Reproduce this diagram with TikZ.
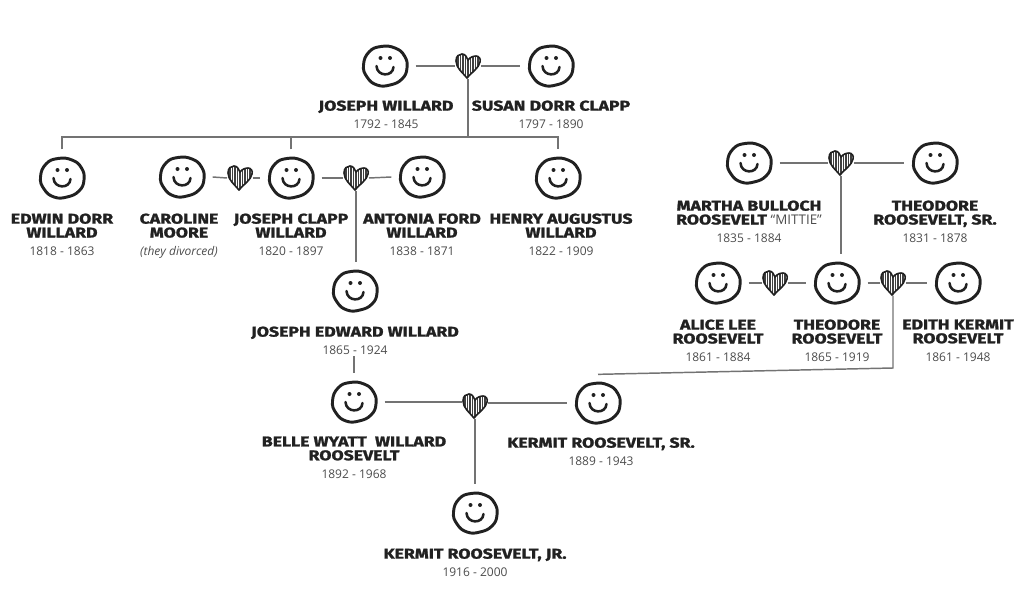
\documentclass[tikz,border=0pt]{standalone}
\usepackage{fontspec}
\setmainfont{Open Sans}
\newfontfamily\namefont[FakeBold=1.5,FakeStretch=1.25]{Fira Sans Bold}
\usetikzlibrary{calc,positioning}
\definecolor{ink}{gray}{0.13}
\definecolor{wire}{gray}{0.45}
\newcommand{\yrs}[1]{{\fontsize{9}{11}\selectfont\normalfont\color{black!70}#1}}
\newcommand{\nm}[1]{{\namefont #1}}
\tikzset{face/.style={rectangle,inner sep=0pt,outer sep=5pt,minimum width=36pt,minimum height=33pt,
    path picture={\begin{scope}[shift={(path picture bounding box.center)}]
      \draw[ink,line width=2.2pt,line join=round] plot[smooth cycle,tension=0.8] coordinates {(-21.5,-1) (-16,-14) (-4,-19.5) (10,-18) (19.5,-10) (22,2) (17,13) (5,19) (-8,19) (-18,11)};
      \fill[ink] (-4.5,-8) circle (2) (5,-8) circle (2);
      \draw[ink,line width=1.9pt,line cap=round] (-8.5,0) .. controls (-8,11) and (8,11) .. (8.5,1);
    \end{scope}}},
  love/.style={rectangle,inner sep=0pt,outer sep=0pt,minimum width=19.5pt,minimum height=19pt,
    path picture={\begin{scope}[shift={(path picture bounding box.center)}]
      \def\lovepath{(-1,12) .. controls (-5,7) and (-12,2) .. (-12,-5) .. controls (-12,-10) and (-9,-12) .. (-6,-12) .. controls (-3,-12) and (-1,-9) .. (0,-6) .. controls (2,-9) and (6,-10) .. (8,-10) .. controls (11,-10) and (13,-7) .. (12,-4) .. controls (11,2) and (4,6) .. (-1,12) -- cycle}
      \begin{scope}
        \clip \lovepath;
        \fill[white] (-13,-13) rectangle (13,13);
        \draw[black!75,line width=1pt] (-10,-13) -- (-10,13) (-7.5,-13) -- (-7.5,13) (-5,-13) -- (-5,13) (-2.5,-13) -- (-2.5,13) (0,-13) -- (0,13) (2.5,-13) -- (2.5,13) (5,-13) -- (5,13) (7.5,-13) -- (7.5,13) (10,-13) -- (10,13);
      \end{scope}
      \draw[ink,line width=1.2pt] \lovepath;
    \end{scope}}},
  who/.style={anchor=north,align=center,inner sep=1pt,text=ink,font=\fontsize{10.6}{10.4}\selectfont},
  tie/.style={wire,line width=1.1pt}}
\begin{document}
\begin{tikzpicture}[x=0.75pt,y=-0.75pt]
\useasboundingbox (0,0) rectangle (1024,614);
% top couple
\node[face] (joseph) at (385,66) {};
\node[face] (susan) at (551,66) {};
\node[love] (h1) at (468,66) {};
\node[who] (josephl) at (386,99) {\nm{JOSEPH WILLARD}\\[3pt]\yrs{1792 - 1845}};
\node[who] (susanl) at (551,99) {\nm{SUSAN DORR CLAPP}\\[3pt]\yrs{1797 - 1890}};
% children
\node[face] (edwin) at (62,178) {};
\node[face] (caroline) at (182,177) {};
\node[love] (h2) at (240,178) {};
\node[face] (clapp) at (291,178) {};
\node[love] (h3) at (356,178) {};
\node[face] (antonia) at (422,177) {};
\node[face] (henry) at (558,178) {};
\node[who] (edwinl) at (62,212) {\nm{EDWIN DORR}\\\nm{WILLARD}\\[3pt]\yrs{1818 - 1863}};
\node[who] (carolinel) at (179,212) {\nm{CAROLINE}\\\nm{MOORE}\\[3pt]\yrs{\itshape (they divorced)}};
\node[who] (clappl) at (291,212) {\nm{JOSEPH CLAPP}\\\nm{WILLARD}\\[3pt]\yrs{1820 - 1897}};
\node[who] (antonial) at (422,212) {\nm{ANTONIA FORD}\\\nm{WILLARD}\\[3pt]\yrs{1838 - 1871}};
\node[who] (henryl) at (561,212) {\nm{HENRY AUGUSTUS}\\\nm{WILLARD}\\[3pt]\yrs{1822 - 1909}};
\coordinate (bar) at (468,137);
\draw[tie] (joseph.east) -- (h1.west);
\draw[tie] (h1.east) -- (susan.west);
\draw[tie] (h1.south) -- (bar);
\draw[tie] (edwin.north) |- (bar) -| (henry.north);
\draw[tie] (clapp.north) -- (clapp.north |- bar);
\draw[tie] (caroline.east) -- (h2.west);
\draw[tie] (h2.east) -- (clapp.west);
\draw[tie] (clapp.east) -- (h3.west);
\draw[tie] (h3.east) -- (antonia.west);
% Joseph Edward
\node[face] (edward) at (355,291) {};
\node[who] (edwardl) at (355,325) {\nm{JOSEPH EDWARD WILLARD}\\[3pt]\yrs{1865 - 1924}};
\draw[tie] (h3.south) -- (h3.south |- edward.north);
% Roosevelts
\node[face] (martha) at (749,163) {};
\node[love] (h4) at (841,163) {};
\node[face] (senior) at (935,163) {};
\node[who] (marthal) at (749,199) {\nm{MARTHA BULLOCH}\\\nm{ROOSEVELT} \yrs{\fontsize{10}{11}\selectfont ``MITTIE''}\\[3pt]\yrs{1835 - 1884}};
\node[who] (seniorl) at (935,199) {\nm{THEODORE}\\\nm{ROOSEVELT, SR.}\\[3pt]\yrs{1831 - 1878}};
\node[face] (alice) at (718,283) {};
\node[love] (h5) at (775,283) {};
\node[face] (teddy) at (837,283) {};
\node[love] (h6) at (893,283) {};
\node[face] (edith) at (958,283) {};
\node[who] (alicel) at (718,318) {\nm{ALICE LEE}\\\nm{ROOSEVELT}\\[3pt]\yrs{1861 - 1884}};
\node[who] (teddyl) at (837,318) {\nm{THEODORE}\\\nm{ROOSEVELT}\\[3pt]\yrs{1865 - 1919}};
\node[who] (edithl) at (958,318) {\nm{EDITH KERMIT}\\\nm{ROOSEVELT}\\[3pt]\yrs{1861 - 1948}};
\draw[tie] (martha.east) -- (h4.west);
\draw[tie] (h4.east) -- (senior.west);
\draw[tie] (h4.south) -- (h4.south |- teddy.north);
\draw[tie] (alice.east) -- (h5.west);
\draw[tie] (h5.east) -- (teddy.west);
\draw[tie] (teddy.east) -- (h6.west);
\draw[tie] (h6.east) -- (edith.west);
% bottom couple
\node[face] (belle) at (354,402) {};
\node[love] (h7) at (475,406) {};
\node[face] (kermit) at (598,403) {};
\node[face] (junior) at (475,513) {};
\node[who] (bellel) at (354,435) {\nm{BELLE WYATT\ \ WILLARD}\\\nm{ROOSEVELT}\\[3pt]\yrs{1892 - 1968}};
\node[who] (kermitl) at (601,436) {\nm{KERMIT ROOSEVELT, SR.}\\[3pt]\yrs{1889 - 1943}};
\node[who] (juniorl) at (475,547) {\nm{KERMIT ROOSEVELT, JR.}\\[3pt]\yrs{1916 - 2000}};
\coordinate (turn) at (893,368);
\draw[tie] (belle.east) -- (belle.east -| h7.west);
\draw[tie] (kermit.west -| h7.east) -- (kermit.west);
\draw[tie] (h7.south) -- (junior.north);
\draw[tie] (edwardl.south -| belle.north) -- (belle.north);
\draw[tie] (h6.south) -- (turn) -- (kermit.north);
\end{tikzpicture}
\end{document}
